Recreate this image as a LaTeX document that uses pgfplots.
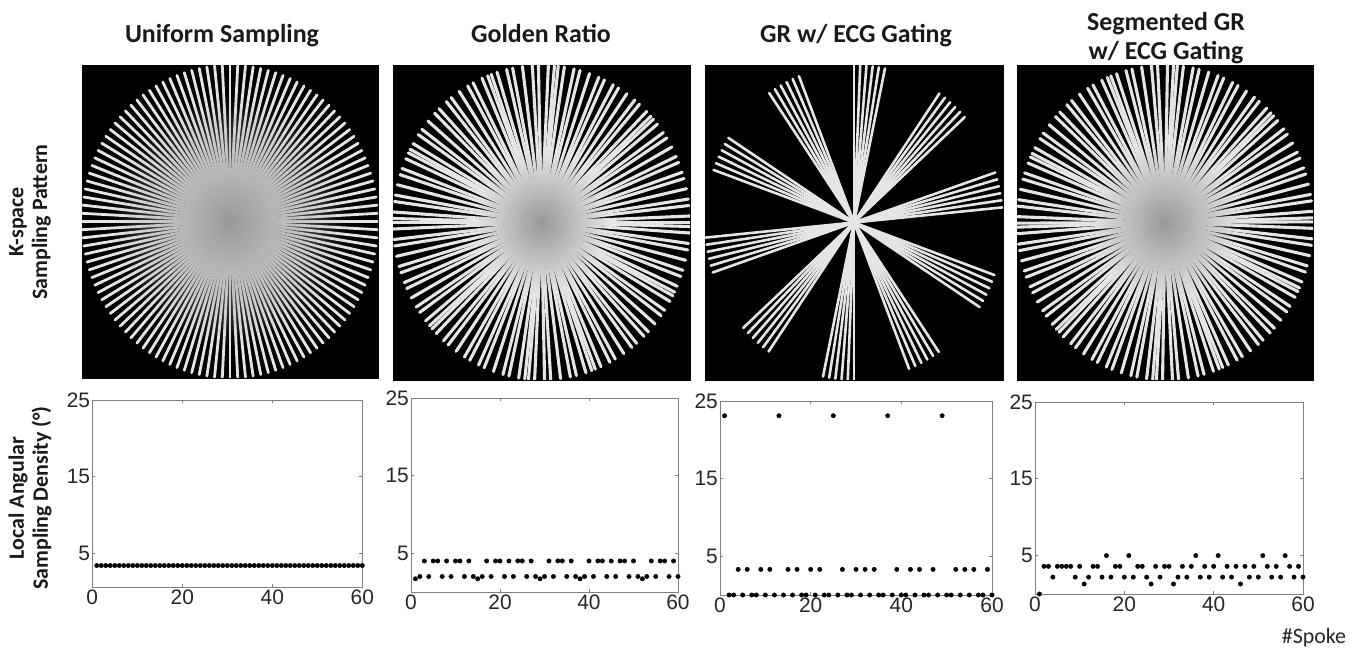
\documentclass[border=0pt]{standalone}
\usepackage{pgfplots}
\pgfplotsset{compat=1.18}
\usepackage{pgfplotstable}
\usetikzlibrary{fadings}
\usepackage{fontspec}
\setmainfont{Liberation Sans}
\newfontfamily\carlito{Carlito}
\definecolor{spoke}{gray}{0.90}
\definecolor{frame}{gray}{0.50}
\tikzfading[name=cf, inner color=transparent!0, outer color=transparent!100]

% spoke angles (degrees)
\pgfplotstableread[row sep=\\]{a\\0\\3\\6\\9\\12\\15\\18\\21\\24\\27\\30\\33\\36\\39\\42\\45\\48\\51\\54\\57\\60\\63\\66\\69\\72\\75\\78\\81\\84\\87\\90\\93\\96\\99\\102\\105\\108\\111\\114\\117\\120\\123\\126\\129\\132\\135\\138\\141\\144\\147\\150\\153\\156\\159\\162\\165\\168\\171\\174\\177\\}\uang
\pgfplotstableread[row sep=\\]{a\\0\\111.25\\42.49\\153.74\\84.98\\16.23\\127.48\\58.72\\169.97\\101.22\\32.46\\143.71\\74.95\\6.20\\117.45\\48.69\\159.94\\91.19\\22.43\\133.68\\64.92\\176.17\\107.42\\38.66\\149.91\\81.15\\12.40\\123.65\\54.89\\166.14\\97.39\\28.63\\139.88\\71.12\\2.37\\113.62\\44.86\\156.11\\87.35\\18.60\\129.85\\61.09\\172.34\\103.59\\34.83\\146.08\\77.32\\8.57\\119.82\\51.06\\162.31\\93.56\\24.80\\136.05\\67.29\\178.54\\109.79\\41.03\\152.28\\83.52\\}\gang
\pgfplotstableread[row sep=\\]{a\\5.5\\8.1\\10.7\\13.3\\15.9\\18.5\\42\\44.6\\47.2\\49.8\\52.4\\55\\78\\80.4\\82.8\\85.2\\87.6\\90\\111.7\\114.3\\116.9\\119.5\\122.1\\124.7\\147.5\\150.1\\152.7\\155.3\\157.9\\160.5\\}\eang
\pgfplotstableread[row sep=\\]{a\\1.70\\112.95\\44.19\\155.44\\86.68\\17.93\\129.18\\60.42\\171.67\\102.92\\34.16\\145.41\\76.65\\7.90\\119.15\\50.39\\161.64\\92.89\\24.13\\135.38\\66.62\\177.87\\109.12\\40.36\\151.61\\82.85\\14.10\\125.35\\56.59\\167.84\\99.09\\30.33\\141.58\\72.82\\4.07\\115.32\\46.56\\157.81\\89.05\\20.30\\131.55\\62.79\\174.04\\105.29\\36.53\\147.78\\79.02\\10.27\\121.52\\52.76\\164.01\\95.26\\26.50\\137.75\\68.99\\0.24\\111.49\\42.73\\153.98\\85.22\\}\sang

% local angular sampling density
\pgfplotstableread[row sep=\\]{x y\\1 3.4\\2 3.4\\3 3.4\\4 3.4\\5 3.4\\6 3.4\\7 3.4\\8 3.4\\9 3.4\\10 3.4\\11 3.4\\12 3.4\\13 3.4\\14 3.4\\15 3.4\\16 3.4\\17 3.4\\18 3.4\\19 3.4\\20 3.4\\21 3.4\\22 3.4\\23 3.4\\24 3.4\\25 3.4\\26 3.4\\27 3.4\\28 3.4\\29 3.4\\30 3.4\\31 3.4\\32 3.4\\33 3.4\\34 3.4\\35 3.4\\36 3.4\\37 3.4\\38 3.4\\39 3.4\\40 3.4\\41 3.4\\42 3.4\\43 3.4\\44 3.4\\45 3.4\\46 3.4\\47 3.4\\48 3.4\\49 3.4\\50 3.4\\51 3.4\\52 3.4\\53 3.4\\54 3.4\\55 3.4\\56 3.4\\57 3.4\\58 3.4\\59 3.4\\60 3.4\\}\du
\pgfplotstableread[row sep=\\]{x y\\1 1.7\\2 2.0\\3 4.0\\4 2.0\\5 4.0\\6 4.0\\7 2.0\\8 4.0\\9 2.0\\10 4.0\\11 4.0\\12 2.0\\13 4.0\\14 2.0\\15 1.7\\16 2.0\\17 4.0\\18 2.0\\19 4.0\\20 4.0\\21 2.0\\22 4.0\\23 2.0\\24 4.0\\25 4.0\\26 2.0\\27 4.0\\28 2.0\\29 1.7\\30 2.0\\31 4.0\\32 2.0\\33 4.0\\34 4.0\\35 2.0\\36 4.0\\37 2.0\\38 1.7\\39 2.0\\40 4.0\\41 2.0\\42 4.0\\43 4.0\\44 2.0\\45 4.0\\46 2.0\\47 4.0\\48 4.0\\49 2.0\\50 4.0\\51 2.0\\52 1.7\\53 2.0\\54 4.0\\55 2.0\\56 4.0\\57 4.0\\58 2.0\\59 4.0\\60 2.0\\}\dg
\pgfplotstableread[row sep=\\]{x y\\1 23.1\\2 0\\3 0\\4 3.3\\5 0\\6 3.3\\7 0\\8 0\\9 3.3\\10 0\\11 3.3\\12 0\\13 23.1\\14 0\\15 3.3\\16 0\\17 3.3\\18 0\\19 0\\20 3.3\\21 0\\22 3.3\\23 0\\24 0\\25 23.1\\26 0\\27 3.3\\28 0\\29 0\\30 3.3\\31 0\\32 3.3\\33 0\\34 3.3\\35 0\\36 0\\37 23.1\\38 0\\39 3.3\\40 0\\41 0\\42 3.3\\43 0\\44 3.3\\45 0\\46 0\\47 3.3\\48 0\\49 23.1\\50 0\\51 0\\52 3.3\\53 0\\54 3.3\\55 0\\56 3.3\\57 0\\58 0\\59 3.3\\60 0\\}\de
\pgfplotstableread[row sep=\\]{x y\\1 0\\2 3.6\\3 3.6\\4 2.2\\5 3.6\\6 3.6\\7 3.6\\8 3.6\\9 2.2\\10 3.6\\11 1.3\\12 2.2\\13 3.6\\14 3.6\\15 2.2\\16 5.0\\17 2.2\\18 3.6\\19 3.6\\20 2.2\\21 5.0\\22 2.2\\23 3.6\\24 3.6\\25 2.2\\26 1.3\\27 3.6\\28 2.2\\29 3.6\\30 3.6\\31 1.3\\32 2.2\\33 3.6\\34 2.2\\35 3.6\\36 5.0\\37 2.2\\38 3.6\\39 2.2\\40 3.6\\41 5.0\\42 2.2\\43 3.6\\44 2.2\\45 3.6\\46 1.3\\47 3.6\\48 2.2\\49 3.6\\50 2.2\\51 5.0\\52 3.6\\53 2.2\\54 3.6\\55 2.2\\56 5.0\\57 3.6\\58 2.2\\59 3.6\\60 2.2\\}\ds

\pgfplotsset{
  kspace/.style={scale only axis, anchor=south west, xmin=-1, xmax=1, ymin=-1, ymax=1,
    axis background/.style={fill=black}, xtick=\empty, ytick=\empty,
    axis line style={draw=black}, clip=true},
  dens/.style={scale only axis, anchor=south west, width=270bp, height=194bp,
    xmin=0, xmax=60, ymin=0, ymax=25, xtick={0,20,40,60}, ytick={5,15,25},
    tick align=inside, major tick length=3bp,
    axis line style={draw=frame, line width=0.9bp}, tick style={draw=frame, line width=0.8bp},
    ticklabel style={font=\fontsize{21}{21}\selectfont, text=black!85},
    yticklabel style={inner xsep=2bp}, xticklabel style={inner ysep=3bp},
    /pgf/number format/assume math mode=true},
  dots/.style={only marks, mark=*, mark size=2.2bp, black},
}
\newcommand{\spokes}[2]{\addplot[draw=spoke, line width=#2, line cap=round,
   quiver={u={2*cos(\thisrow{a})}, v={2*sin(\thisrow{a})}}]
   table[x index=0, y index=0, x expr={-cos(\thisrow{a})}, y expr={-sin(\thisrow{a})}] {#1};}

\begin{document}
\begin{tikzpicture}
\path[use as bounding box] (0,0) rectangle (1366bp,656bp);

% top row
\begin{axis}[kspace, at={(82bp,278bp)}, width=296bp, height=313bp]
\spokes{\uang}{2.8bp}
\fill[gray!80, path fading=cf] (axis cs:0,0) ellipse [x radius=0.8, y radius=0.8];
\end{axis}
\begin{axis}[kspace, at={(393bp,276bp)}, width=297bp, height=315bp]
\spokes{\gang}{3.1bp}
\fill[gray!80, path fading=cf] (axis cs:0,0) ellipse [x radius=0.45, y radius=0.45];
\end{axis}
\begin{axis}[kspace, at={(705bp,276bp)}, width=298bp, height=315bp]
\spokes{\eang}{2.6bp}
\end{axis}
\begin{axis}[kspace, at={(1017bp,276bp)}, width=296bp, height=315bp]
\spokes{\sang}{3.1bp}
\fill[gray!80, path fading=cf] (axis cs:0,0) ellipse [x radius=0.5, y radius=0.5];
\end{axis}

% bottom row
\begin{axis}[dens, at={(92.3bp,69bp)}, height=187bp, ymin=0.6]
\addplot[dots] table {\du};
\end{axis}
\begin{axis}[dens, at={(411bp,64bp)}, width=267bp]
\addplot[dots] table {\dg};
\end{axis}
\begin{axis}[dens, at={(720bp,61bp)}, width=272bp]
\addplot[dots] table {\de};
\end{axis}
\begin{axis}[dens, at={(1035bp,62bp)}, width=268bp, height=192bp]
\addplot[dots] table {\ds};
\end{axis}

% titles
\begin{scope}[every node/.style={font=\carlito\bfseries\fontsize{26}{29}\selectfont, text=black!90, anchor=base}]
\node at (222bp,613bp) {Uniform Sampling};
\node at (541bp,613bp) {Golden Ratio};
\node at (856bp,613bp) {GR w/ ECG Gating};
\node at (1166bp,625bp) {Segmented GR};
\node at (1166bp,596bp) {w/ ECG Gating};
\end{scope}
\begin{scope}[every node/.style={font=\carlito\bfseries\fontsize{22}{24}\selectfont, text=black!90, rotate=90, align=center}]
\node at (30bp,434bp) {K-space\\Sampling Pattern};
\node at (30bp,158bp) {Local Angular\\Sampling Density (°)};
\end{scope}
\node[font=\carlito\fontsize{22}{24}\selectfont, text=black!85] at (1314bp,18bp) {\#Spoke};
\end{tikzpicture}
\end{document}
